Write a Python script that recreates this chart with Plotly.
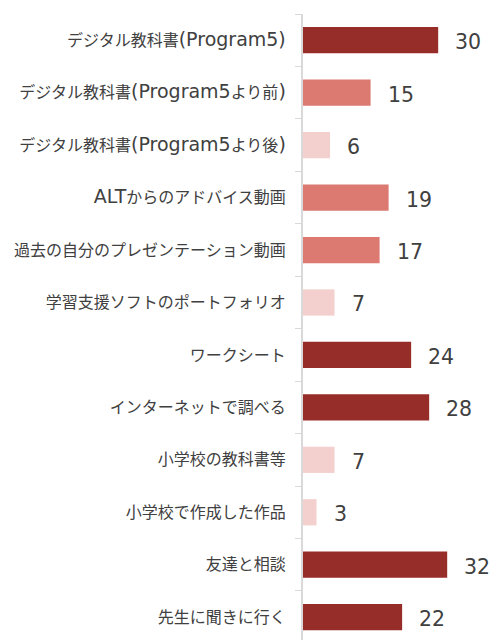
import re
import plotly.graph_objects as go

categories = [
    "デジタル教科書(Program5)",
    "デジタル教科書(Program5より前)",
    "デジタル教科書(Program5より後)",
    "ALTからのアドバイス動画",
    "過去の自分のプレゼンテーション動画",
    "学習支援ソフトのポートフォリオ",
    "ワークシート",
    "インターネットで調べる",
    "小学校の教科書等",
    "小学校で作成した作品",
    "友達と相談",
    "先生に聞きに行く",
]
values = [30, 15, 6, 19, 17, 7, 24, 28, 7, 3, 32, 22]

DARK, MID, LIGHT = "#962D29", "#DC7A72", "#F3CFCD"
colors = [DARK if v >= 20 else (MID if v >= 10 else LIGHT) for v in values]

FONT = "DejaVu Sans, Noto Sans CJK JP"


def styled(label):
    # Latin runs are set a little larger, as in the original's Japanese UI font
    return re.sub(r"([A-Za-z0-9()]+)", r'<span style="font-size:19px">\1</span>', label)


fig = go.Figure()
fig.add_trace(go.Bar(
    x=values, y=categories, orientation="h",
    marker=dict(color=colors, line=dict(width=0)),
    width=0.5,
    hoverinfo="skip",
))

for c, v in zip(categories, values):
    fig.add_annotation(
        x=v, y=c, text=str(v), showarrow=False,
        xanchor="left", yanchor="middle", xshift=15, yshift=-2,
        font=dict(size=20.5, color="#404040", family=FONT),
    )

fig.update_layout(
    width=490, height=640,
    margin=dict(l=303, r=0, t=14, b=0, autoexpand=False),
    paper_bgcolor="white", plot_bgcolor="white",
    showlegend=False,
    font=dict(family=FONT, color="#404040"),
    xaxis=dict(range=[0, 41.5], visible=False, fixedrange=True, automargin=False),
    yaxis=dict(
        categoryorder="array", categoryarray=categories,
        tickmode="array", tickvals=categories,
        ticktext=[styled(c) for c in categories],
        range=[11.435, -0.5],
        automargin=False,
        showline=True, linecolor="#D9D9D9", linewidth=2,
        ticks="outside", ticklen=6, tickcolor="#D9D9D9", tickwidth=1,
        tickson="boundaries",
        showgrid=False, zeroline=False,
        tickfont=dict(size=16, color="#404040", family=FONT),
        ticklabelstandoff=12,
        fixedrange=True,
    ),
)

fig.write_html(
    "out.html",
    config={"displayModeBar": False},
    post_script="document.body.style.margin='0';document.body.style.overflow='hidden';",
)
